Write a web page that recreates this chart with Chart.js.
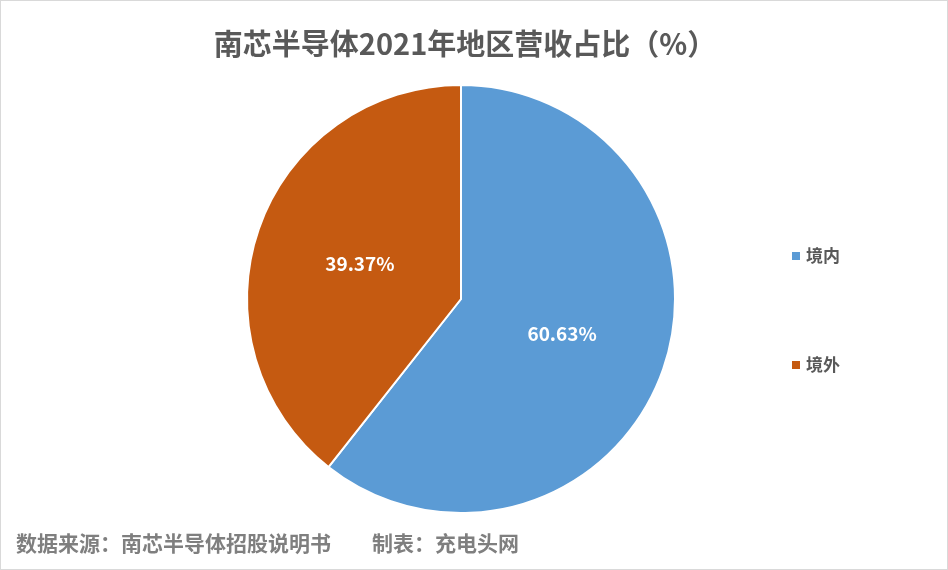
<!DOCTYPE html>
<html>
<head>
<meta charset="utf-8">
<script src="https://cdn.jsdelivr.net/npm/chart.js@4.4.1/dist/chart.umd.min.js"></script>
<style>
  html, body { margin: 0; padding: 0; background: #fff; }
  #wrap { width: 948px; height: 570px; position: relative; }
</style>
</head>
<body>
<div id="wrap"><canvas id="pieChart" width="948" height="570"></canvas></div>
<script>
const regions = ["境内", "境外"];
const shares = [60.63, 39.37];
const colors = ["#5B9BD5", "#C55A11"];
const titleText = "南芯半导体2021年地区营收占比（%）";
const sourceText = "数据来源：南芯半导体招股说明书";
const makerText = "制表：充电头网";

const FONT = '"Noto Sans CJK SC", "Noto Sans", sans-serif';

// draws title, legend, footer, frame and slice labels
const decorations = {
  id: 'decorations',
  afterDraw(chart) {
    const c = chart.ctx;
    c.save();
    c.strokeStyle = '#d9d9d9';
    c.lineWidth = 1;
    c.strokeRect(0.5, 0.5, chart.width - 1, chart.height - 1);

    c.fillStyle = '#595959';
    c.font = 'bold 29px ' + FONT;
    c.textAlign = 'center';
    c.textBaseline = 'middle';
    c.fillText(titleText, 465, 44);

    c.font = 'bold 21px ' + FONT;
    c.fillStyle = '#7f7f7f';
    c.textAlign = 'left';
    c.fillText(sourceText, 16, 543);
    c.fillText(makerText, 372, 543);

    const meta = chart.getDatasetMeta(0);
    const legendY = [256, 365];
    meta.data.forEach((arc, i) => {
      c.fillStyle = colors[i];
      c.fillRect(792, legendY[i] - 4, 8, 8);
      c.fillStyle = '#595959';
      c.font = 'bold 17px ' + FONT;
      c.textAlign = 'left';
      c.fillText(regions[i], 806, legendY[i]);

      const p = arc.tooltipPosition();
      c.fillStyle = '#ffffff';
      c.font = 'bold 19px ' + FONT;
      c.textAlign = 'center';
      c.fillText(shares[i].toFixed(2) + '%', p.x, p.y);
    });
    c.restore();
  }
};

new Chart(document.getElementById('pieChart'), {
  type: 'pie',
  data: {
    labels: regions,
    datasets: [{
      data: shares,
      backgroundColor: colors,
      borderColor: '#ffffff',
      borderWidth: 2
    }]
  },
  options: {
    responsive: false,
    animation: false,
    layout: { padding: { left: 246, right: 272, top: 84, bottom: 56 } },
    plugins: {
      legend: { display: false },
      title: { display: false },
      tooltip: { enabled: false }
    }
  },
  plugins: [decorations]
});
</script>
</body>
</html>
